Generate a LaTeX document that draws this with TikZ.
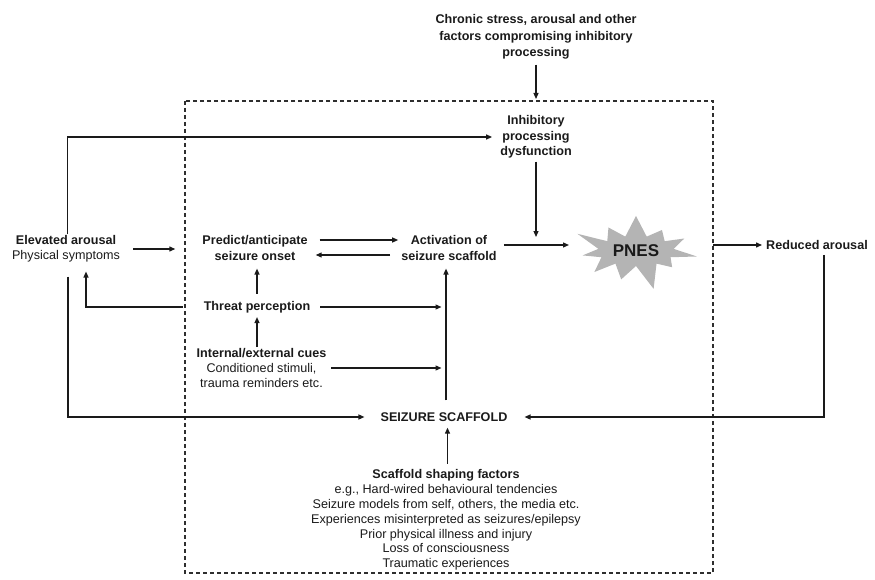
\documentclass[tikz,border=0pt]{standalone}
\usepackage{fontspec}
\setmainfont{Liberation Sans}
\usetikzlibrary{arrows.meta,shapes.symbols}
\definecolor{txt}{HTML}{1A1A1A}
\definecolor{linec}{HTML}{1A1A1A}
\definecolor{boxc}{HTML}{2E2E2E}
\definecolor{starc}{HTML}{B4B4B4}
\begin{document}
\begin{tikzpicture}[x=1pt,y=-1pt,
  every node/.style={font=\fontsize{12.6}{15}\selectfont, text=txt, inner sep=1pt, align=center},
  bt/.style={font=\fontsize{12.6}{15.5}\selectfont\bfseries},
  con/.style={draw=linec, line width=1.25pt, -{Triangle[length=6pt,width=5pt]}},
]
\useasboundingbox (0,0) rectangle (875,580);
% dashed frame
\draw[draw=boxc, line width=1.2pt, dash pattern=on 4pt off 3pt] (185,101) rectangle (713,573);

% nodes
\node[bt, font=\fontsize{12.6}{16.5}\selectfont\bfseries] (chronic) at (536,37) {Chronic stress, arousal and other\\factors compromising inhibitory\\processing};
\node[bt] (inhib) at (536,137) {Inhibitory\\processing\\dysfunction};
\node (elev) at (66,249) {\textbf{Elevated arousal}\\Physical symptoms};
\node[bt] (pred) at (255,248) {Predict/anticipate\\seizure onset};
\node[bt] (act) at (449,248) {Activation of\\seizure scaffold};
\node[starburst, starburst points=11, starburst point height=28pt, fill=starc, draw=none,
      minimum width=132pt, minimum height=86pt, inner sep=0pt,
      font=\fontsize{17}{20}\selectfont\bfseries] (pnes) at (636,251) {PNES};
\node[bt] (red) at (817,245) {Reduced arousal};
\node[bt] (threat) at (257,307) {Threat perception};
\node (cues) at (261.5,368) {\textbf{Internal/external cues}\\Conditioned stimuli,\\trauma reminders etc.};
\node[bt] (scaf) at (444,417) {SEIZURE SCAFFOLD};
\node[font=\fontsize{12.6}{14.8}\selectfont] (shape) at (446,520) {\textbf{Scaffold shaping factors}\\e.g., Hard-wired behavioural tendencies\\Seizure models from self, others, the media etc.\\Experiences misinterpreted as seizures/epilepsy\\Prior physical illness and injury\\Loss of consciousness\\Traumatic experiences};

% named free ends
\coordinate (ct) at (536,99);
\coordinate (ij) at (536,237);
\coordinate (be) at (713,245);
\coordinate (pe) at (569,245);
\coordinate (v1) at (446,307);
\coordinate (v2) at (446,368);

% connectors
\draw[con, shorten <=4pt] (chronic.south) -- (ct);
\draw[con, shorten >=7pt] ([xshift=1.5pt]elev.north) |- (inhib.west);
\draw[con, shorten <=2pt] (inhib.south) -- (ij);
\draw[con, shorten <=12pt, shorten >=26pt] (elev.east) -- (elev.east -| pred.west);
\draw[con, shorten <=11pt, shorten >=2pt] ([yshift=8pt]pred.east) -- ([yshift=8pt]act.west);
\draw[con, shorten <=10pt, shorten >=7pt] ([yshift=-7pt]act.west) -- ([yshift=-7pt]pred.east);
\draw[con, shorten <=6pt] (act.east |- pe) -- (pe);
\draw[con, shorten >=3pt] (be) -- (red.west);
\draw[con, shorten <=4pt, shorten >=16pt] ([xshift=7pt]red.south) |- (scaf.east);
\draw[con, shorten <=20pt, shorten >=8pt] (threat.west) -| ([xshift=20pt]elev.south);
\draw[con, shorten <=6pt, shorten >=7pt] (threat.north) -- (threat.north |- pred.south);
\draw[con, shorten <=9pt, shorten >=4.5pt] (threat.east) -- (v1);
\draw[con, shorten <=11pt, shorten >=7pt] (scaf.north -| v1) -- (act.south -| v1);
\draw[con, shorten >=3pt] (cues.north -| threat.south) -- (threat.south);
\draw[con, shorten <=4pt, shorten >=4.5pt] (cues.east |- v2) -- (v2);
\draw[con, shorten <=13pt, shorten >=15pt] ([xshift=2pt]elev.south) |- (scaf.west);
\draw[con, shorten <=5pt, shorten >=5pt] ([xshift=1.5pt]shape.north) -- ([xshift=1.5pt]shape.north |- scaf.south);
\end{tikzpicture}
\end{document}
